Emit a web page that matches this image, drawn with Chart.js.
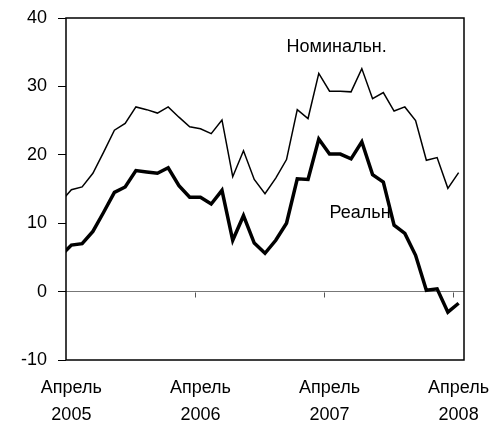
<!DOCTYPE html>
<html lang="ru">
<head>
<meta charset="utf-8">
<title>Номинальн. / Реальн</title>
<script src="https://cdn.jsdelivr.net/npm/chart.js@4/dist/chart.umd.min.js"></script>
<style>
  html, body { margin: 0; padding: 0; background: #fff; }
  #wrap { width: 495px; height: 424px; }
</style>
</head>
<body>
<div id="wrap"><canvas id="growthChart" width="495" height="424"></canvas></div>
<script>
// Месяцы: первый (март 2005) уходит за левую границу графика
const months = [
  'Мар 2005', 'Апр 2005', 'Май 2005', 'Июн 2005', 'Июл 2005', 'Авг 2005', 'Сен 2005', 'Окт 2005',
  'Ноя 2005', 'Дек 2005', 'Янв 2006', 'Фев 2006', 'Мар 2006', 'Апр 2006', 'Май 2006', 'Июн 2006',
  'Июл 2006', 'Авг 2006', 'Сен 2006', 'Окт 2006', 'Ноя 2006', 'Дек 2006', 'Янв 2007', 'Фев 2007',
  'Мар 2007', 'Апр 2007', 'Май 2007', 'Июн 2007', 'Июл 2007', 'Авг 2007', 'Сен 2007', 'Окт 2007',
  'Ноя 2007', 'Дек 2007', 'Янв 2008', 'Фев 2008', 'Мар 2008', 'Апр 2008'
];

const nominal = [
  13.1, 14.9, 15.3, 17.3, 20.4, 23.6, 24.6, 27.0, 26.6, 26.1, 27.0, 25.5, 24.1, 23.8, 23.1, 25.1,
  16.8, 20.6, 16.4, 14.3, 16.6, 19.3, 26.6, 25.3, 31.9, 29.3, 29.3, 29.2, 32.6, 28.2, 29.1, 26.4,
  27.0, 25.0, 19.2, 19.6, 15.1, 17.4
];

const real = [
  5.2, 6.8, 7.0, 8.8, 11.6, 14.5, 15.3, 17.7, 17.5, 17.3, 18.1, 15.5, 13.8, 13.8, 12.8, 14.8,
  7.5, 11.1, 7.1, 5.6, 7.5, 10.0, 16.5, 16.4, 22.3, 20.1, 20.1, 19.4, 21.9, 17.1, 16.0, 9.7,
  8.5, 5.3, 0.2, 0.4, -3.0, -1.7
];

const yTicks = [-10, 0, 10, 20, 30, 40];

// Подписи внутри графика: [текст, индекс месяца, значение по оси Y]
const seriesLabels = [
  ['Номинальн.', 21, 35.8],
  ['Реальн', 25, 11.5]
];

const FONT = "'Liberation Sans', Arial, sans-serif";

const isApril = (label) => label && label.startsWith('Апр');

// Рамка, засечки между годами на нулевой линии и подписи серий
const framePlugin = {
  id: 'frame',
  afterDatasetsDraw(chart) {
    const { ctx, chartArea: a, scales } = chart;
    const x = scales.x;
    const y0 = Math.round(scales.y.getPixelForValue(0)) + 0.5;
    ctx.save();

    ctx.strokeStyle = '#555';
    ctx.lineWidth = 1;
    months.forEach((m, i) => {
      if (i < 2 || !isApril(m)) return;
      const px = Math.round((x.getPixelForValue(i - 1) + x.getPixelForValue(i)) / 2) + 0.5;
      ctx.beginPath();
      ctx.moveTo(px, y0);
      ctx.lineTo(px, y0 + 5);
      ctx.stroke();
    });

    ctx.fillStyle = '#000';
    ctx.font = '18px ' + FONT;
    ctx.textBaseline = 'middle';
    ctx.textAlign = 'left';
    seriesLabels.forEach(([text, idx, val]) => {
      ctx.fillText(text, x.getPixelForValue(idx), scales.y.getPixelForValue(val));
    });

    ctx.strokeStyle = '#000';
    ctx.lineWidth = 1.5;
    ctx.strokeRect(a.left, a.top, a.right - a.left, a.bottom - a.top);
    ctx.restore();
  }
};

new Chart(document.getElementById('growthChart'), {
  type: 'line',
  data: {
    labels: months,
    datasets: [{
      label: 'Номинальн.',
      data: nominal,
      borderColor: '#000',
      borderWidth: 1.5,
      pointRadius: 0,
      tension: 0,
      clip: 0
    }, {
      label: 'Реальн',
      data: real,
      borderColor: '#000',
      borderWidth: 3.5,
      pointRadius: 0,
      tension: 0,
      clip: 0
    }]
  },
  options: {
    responsive: false,
    animation: false,
    layout: { padding: { top: 18, right: 31, left: 0, bottom: 0 } },
    plugins: { legend: { display: false }, tooltip: { enabled: false } },
    scales: {
      x: {
        type: 'category',
        min: months[1],
        max: months[months.length - 1],
        offset: true,
        grid: { display: false, drawTicks: false },
        border: { display: false },
        ticks: {
          autoSkip: false,
          maxRotation: 0,
          padding: 15,
          color: '#000',
          font: { family: FONT, size: 18, lineHeight: 1.5 },
          callback(value) {
            const label = this.getLabelForValue(value);
            return isApril(label) ? ['Апрель', label.split(' ')[1]] : null;
          }
        },
        afterFit(scale) {
          scale.height = 64;
          scale.paddingLeft = 0;
          scale.paddingRight = 0;
        }
      },
      y: {
        min: -10,
        max: 40,
        afterBuildTicks(scale) { scale.ticks = yTicks.map(v => ({ value: v })); },
        border: { display: false },
        grid: {
          drawOnChartArea: true,
          drawTicks: true,
          tickLength: 8,
          lineWidth: 1,
          color: (ctx) => (ctx.tick && ctx.tick.value === 0) ? '#777' : 'rgba(0,0,0,0)',
          tickColor: '#000'
        },
        ticks: {
          padding: 11,
          color: '#000',
          font: { family: FONT, size: 18 }
        },
        afterFit(scale) {
          scale.width = 66;
          scale.paddingTop = 0;
          scale.paddingBottom = 0;
        }
      }
    }
  },
  plugins: [framePlugin]
});
</script>
</body>
</html>
